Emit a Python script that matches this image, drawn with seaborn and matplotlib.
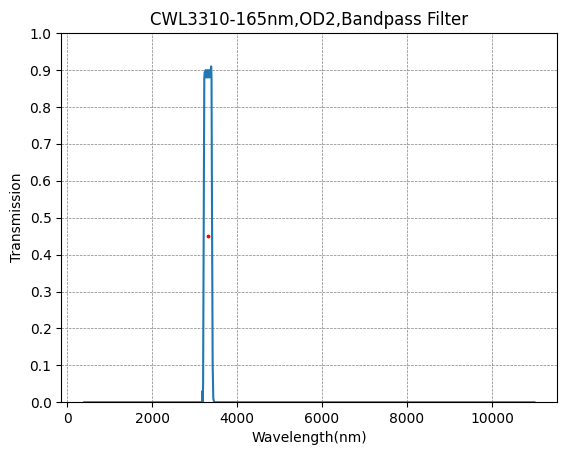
import numpy as np
import pandas as pd
import matplotlib
matplotlib.use("Agg")
import matplotlib.pyplot as plt
import seaborn as sns

# wavelength (nm) and transmission
wavelength = [400, 1000, 2000, 3000, 3150, 3175, 3182, 3190, 3200, 3215, 3228,
              3240, 3250, 3260, 3270, 3280, 3290, 3300, 3310, 3320, 3330,
              3340, 3350, 3360, 3370, 3380, 3390, 3398, 3410, 3425, 3440,
              3460, 3500, 4000, 6000, 8000, 10000, 11000]
transmission = [0.0, 0.0, 0.0, 0.0, 0.0, 0.002, 0.03, 0.0, 0.05, 0.5, 0.88,
                0.895, 0.885, 0.9, 0.88, 0.895, 0.885, 0.9, 0.88, 0.895, 0.885,
                0.9, 0.88, 0.895, 0.885, 0.9, 0.91, 0.88, 0.5, 0.1, 0.01,
                0.0, 0.0, 0.0, 0.0, 0.0, 0.0, 0.0]
cwl = [3310]
half = [0.45]

df = pd.DataFrame({"wl": wavelength, "t": transmission})

fig, ax = plt.subplots(figsize=(5.67, 4.55), dpi=100)
sns.lineplot(data=df, x="wl", y="t", ax=ax, color="#1f77b4", linewidth=1.5)
ax.scatter(cwl, half, color="red", s=3, zorder=3)
ax.set_ylim(0, 1)
ax.set_xlim(-140, 11540)
ax.set_yticks(np.arange(0, 1.01, 0.1))
ax.set_xticks(range(0, 10001, 2000))
ax.grid(True, color="gray", linestyle="--", linewidth=0.5)
ax.set_title("CWL3310-165nm,OD2,Bandpass Filter")
ax.set_xlabel("Wavelength(nm)")
ax.set_ylabel("Transmission")
plt.subplots_adjust(left=0.108, right=0.983, bottom=0.116, top=0.927)
plt.savefig("out.png")
